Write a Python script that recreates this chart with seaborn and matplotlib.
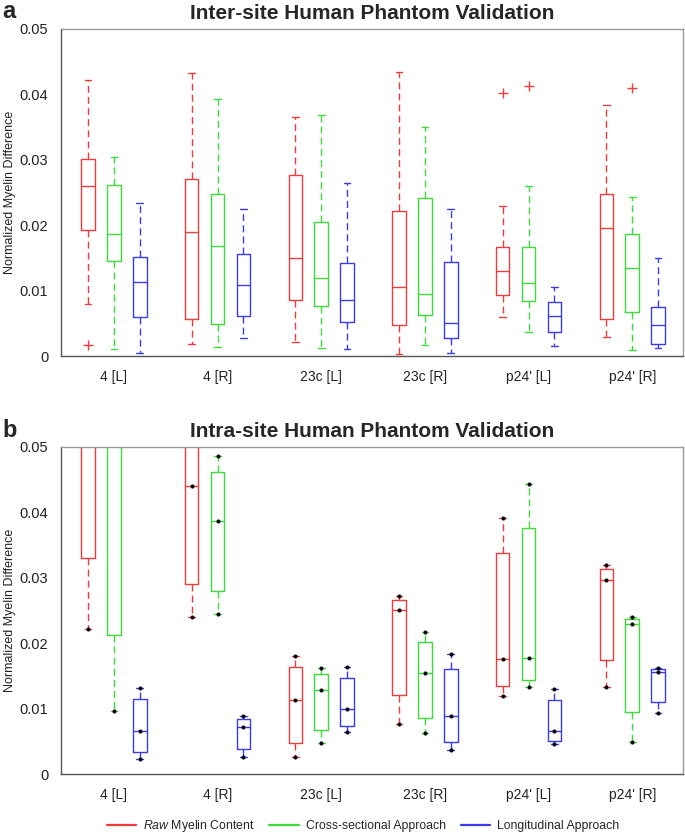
import matplotlib
matplotlib.use("Agg")
import matplotlib.pyplot as plt
from matplotlib.lines import Line2D
import seaborn as sns
import numpy as np

# regions and approaches
regions = ["4 [L]", "4 [R]", "23c [L]", "23c [R]", "p24' [L]", "p24' [R]"]
approaches = ["$\\it{Raw}$ Myelin Content", "Cross-sectional Approach", "Longitudinal Approach"]
colors = ["#ee3b3b", "#3bdc3b", "#3b3bee"]

y_ticks = [0, 0.01, 0.02, 0.03, 0.04, 0.05]
y_tick_labels = ["0", "0.01", "0.02", "0.03", "0.04", "0.05"]

# panel a: box summaries, one row per region, columns raw / cross-sectional / longitudinal
inter_whishi = [[0.0422, 0.0305, 0.0234],
                [0.0433, 0.0393, 0.0225],
                [0.0366, 0.0368, 0.0265],
                [0.0435, 0.0350, 0.0225],
                [0.0229, 0.0260, 0.0105],
                [0.0384, 0.0243, 0.0150]]
inter_q3 = [[0.0301, 0.0261, 0.0152],
            [0.0271, 0.0247, 0.0156],
            [0.0276, 0.0205, 0.0142],
            [0.0222, 0.0241, 0.0144],
            [0.0166, 0.0167, 0.0083],
            [0.0248, 0.0186, 0.0075]]
inter_med = [[0.0260, 0.0186, 0.0113],
             [0.0189, 0.0168, 0.0108],
             [0.0150, 0.0120, 0.0086],
             [0.0106, 0.0095, 0.0050],
             [0.0130, 0.0112, 0.0061],
             [0.0196, 0.0134, 0.0048]]
inter_q1 = [[0.0192, 0.0145, 0.0059],
            [0.0057, 0.0049, 0.0061],
            [0.0085, 0.0077, 0.0052],
            [0.0048, 0.0062, 0.0027],
            [0.0094, 0.0084, 0.0036],
            [0.0056, 0.0067, 0.0019]]
inter_whislo = [[0.0080, 0.0010, 0.0005],
                [0.0018, 0.0013, 0.0027],
                [0.0022, 0.0012, 0.0010],
                [0.0003, 0.0017, 0.0005],
                [0.0060, 0.0036, 0.0015],
                [0.0029, 0.0009, 0.0012]]
# outliers: (region, approach, value)
outlier_region = [0, 4, 4, 5]
outlier_approach = [0, 0, 1, 1]
outlier_value = [0.0017, 0.0402, 0.0413, 0.0410]

# panel b: three measurements per box (min, middle, max)
intra_min = [[0.0222, 0.0096, 0.0023],
             [0.0240, 0.0245, 0.0026],
             [0.0026, 0.0048, 0.0064],
             [0.0077, 0.0063, 0.0036],
             [0.0120, 0.0133, 0.0046],
             [0.0133, 0.0049, 0.0094]]
intra_mid = [[0.0658, 0.0564, 0.0065],
             [0.0440, 0.0387, 0.0072],
             [0.0113, 0.0128, 0.0099],
             [0.0251, 0.0155, 0.0088],
             [0.0176, 0.0178, 0.0065],
             [0.0296, 0.0230, 0.0156]]
intra_max = [[0.0750, 0.0650, 0.0131],
             [0.0580, 0.0486, 0.0088],
             [0.0181, 0.0162, 0.0163],
             [0.0272, 0.0217, 0.0184],
             [0.0392, 0.0443, 0.0130],
             [0.0319, 0.0240, 0.0162]]

offsets = [-0.25, 0.0, 0.25]


def matlab_quartiles(lo, mid, hi):
    """Quartiles of three sorted values the way MATLAB's prctile does it."""
    return lo + 0.25 * (mid - lo), hi - 0.25 * (hi - mid)


def draw_boxes(ax, stats, color, positions):
    dash = (0, (5, 3))
    ax.bxp(stats, positions=positions, widths=0.13, capwidths=0.065,
           showfliers=False, manage_ticks=False,
           boxprops=dict(color=color, lw=1),
           medianprops=dict(color=color, lw=1),
           whiskerprops=dict(color=color, lw=1, linestyle=dash),
           capprops=dict(color=color, lw=1))


def style_axes(ax, title):
    ax.set_xlim(0.49, 6.49)
    ax.set_ylim(0, 0.05)
    ax.set_xticks(range(1, len(regions) + 1))
    ax.set_xticklabels(regions)
    ax.set_yticks(y_ticks)
    ax.set_yticklabels(y_tick_labels)
    ax.tick_params(direction="out", length=5, width=1, color="#555555",
                   labelsize=10, labelcolor="#222222", pad=4)
    ax.tick_params(axis="y", labelsize=10.5)
    ax.tick_params(axis="x", pad=5)
    for side in ["left", "bottom"]:
        ax.spines[side].set_color("#555555")
    for side in ["top", "right"]:
        ax.spines[side].set_color("#999999")
    for sp in ax.spines.values():
        sp.set_visible(True)
        sp.set_linewidth(1)
    ax.set_ylabel("Normalized Myelin Difference", fontsize=9, color="#222222")
    ax.yaxis.set_label_coords(-0.072, 0.5)
    ax.set_title(title, fontsize=15, fontweight="bold", pad=7)


sns.set_style("white")
plt.rcParams["font.family"] = ["Liberation Sans", "DejaVu Sans"]
plt.rcParams["mathtext.fontset"] = "custom"
plt.rcParams["mathtext.rm"] = "Liberation Sans"
plt.rcParams["mathtext.it"] = "Liberation Sans:italic"

fig = plt.figure(figsize=(6.85, 8.36), dpi=100)
ax1 = fig.add_axes([61 / 685, 1 - 356 / 836, 622 / 685, 327 / 836])
ax2 = fig.add_axes([61 / 685, 1 - 774 / 836, 622 / 685, 327 / 836])

# panel a
for j, color in enumerate(colors):
    stats = []
    for i in range(len(regions)):
        stats.append(dict(med=inter_med[i][j], q1=inter_q1[i][j], q3=inter_q3[i][j],
                          whislo=inter_whislo[i][j], whishi=inter_whishi[i][j], fliers=[]))
    draw_boxes(ax1, stats, color, [i + 1 + offsets[j] for i in range(len(regions))])

out_x = [outlier_region[k] + 1 + offsets[outlier_approach[k]] for k in range(len(outlier_value))]
sns.scatterplot(x=out_x, y=outlier_value, marker="+", color=colors[0], s=45,
                linewidth=1, ax=ax1, legend=False, zorder=4)
style_axes(ax1, "Inter-site Human Phantom Validation")

# panel b
dot_x, dot_y = [], []
for j, color in enumerate(colors):
    stats = []
    for i in range(len(regions)):
        lo, mid, hi = intra_min[i][j], intra_mid[i][j], intra_max[i][j]
        q1, q3 = matlab_quartiles(lo, mid, hi)
        stats.append(dict(med=mid, q1=q1, q3=q3, whislo=lo, whishi=hi, fliers=[]))
        pos = i + 1 + offsets[j]
        dot_x += [pos, pos, pos]
        dot_y += [lo, mid, hi]
    draw_boxes(ax2, stats, color, [i + 1 + offsets[j] for i in range(len(regions))])

sns.scatterplot(x=dot_x, y=dot_y, color="black", s=7, edgecolor=None,
                ax=ax2, legend=False, zorder=4)
style_axes(ax2, "Intra-site Human Phantom Validation")

fig.text(0.004, 1 - 18 / 836, "a", fontsize=17, fontweight="bold", va="baseline")
fig.text(0.004, 1 - 437 / 836, "b", fontsize=17, fontweight="bold", va="baseline")

handles = [Line2D([0], [0], color=c, lw=1.6) for c in colors]
fig.legend(handles, approaches, loc="center", bbox_to_anchor=(0.53, 0.012),
           ncol=3, frameon=False, fontsize=8.8, handlelength=2.4,
           handletextpad=0.6, columnspacing=1.2)

fig.savefig("out.png", dpi=100)
